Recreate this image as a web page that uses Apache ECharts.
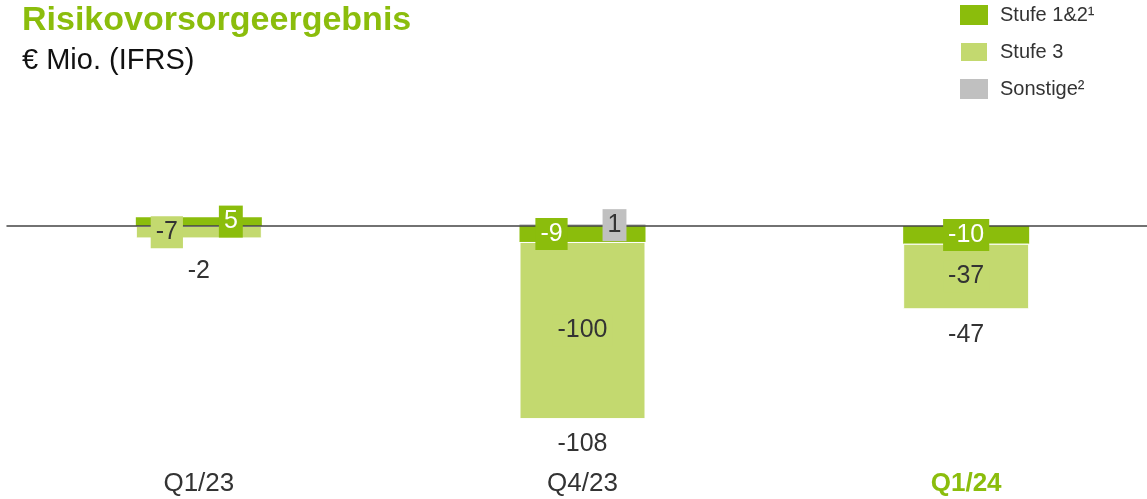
<!DOCTYPE html>
<html>
<head>
<meta charset="utf-8">
<script src="https://cdn.jsdelivr.net/npm/echarts@6/dist/echarts.min.js"></script>
<style>
  html, body { margin: 0; padding: 0; background: #fff; }
  #chart { width: 1147px; height: 499px; }
</style>
</head>
<body>
<div id="chart"></div>
<script>
const categories = ['Q1/23', 'Q4/23', 'Q1/24']
const stufe12 = [5, -9, -10]
const stufe3 = [-7, -100, -37]
const sonstige = [0, 1, 0]
const totals = [-2, -108, -47]

const GREEN = '#8bbd0c'
const LIGHT = '#c3d96f'
const GREY = '#c0c0c0'
const TEXT = '#333333'
const FONT = 'Liberation Sans, Arial, sans-serif'

// horizontal label shifts so that the small labels don't collide
const shift12 = [32, -31, 0]
const shift3 = [-32, 0, 0]
const shiftSon = [0, 32, 0]
const totalGap = [20, 13, 13]

// bottom of the negative stack, used to hang the total below the bar
const negBottom = categories.map((_, i) =>
  [stufe12[i], stufe3[i], sonstige[i]].filter(v => v < 0).reduce((a, b) => a + b, 0))

const boxLabel = (bg, color) => ({
  show: true,
  position: 'inside',
  backgroundColor: bg,
  color: color,
  fontSize: 25,
  lineHeight: 25,
  padding: [4, 5, 3, 5],
  fontFamily: FONT
})

const labelData = (values, shifts) => values.map((v, i) =>
  v === 0 ? { value: v, label: { show: false } } : { value: v, label: { offset: [shifts[i], 0] } })

const chart = echarts.init(document.getElementById('chart'))

chart.setOption({
  animation: false,
  textStyle: { fontFamily: FONT },
  title: [
    {
      text: 'Risikovorsorgeergebnis',
      left: 17, top: -1,
      textStyle: { color: GREEN, fontSize: 34, fontWeight: 'bold', fontFamily: FONT }
    },
    {
      text: '€ Mio. (IFRS)',
      left: 17, top: 41,
      textStyle: { color: '#111', fontSize: 29, fontWeight: 'normal', fontFamily: FONT }
    }
  ],
  legend: {
    orient: 'vertical',
    left: 959, top: 5, padding: 0,
    icon: 'rect',
    itemWidth: 28, itemHeight: 20, itemGap: 16,
    data: ['Stufe 1&2¹', 'Stufe 3', 'Sonstige²'],
    textStyle: { color: TEXT, fontSize: 20, fontFamily: FONT, padding: [0, 0, 0, 7] }
  },
  grid: { left: 7, top: 190.6, right: -11, bottom: 42.7, outerBoundsMode: 'none' },
  xAxis: [
    {
      type: 'category',
      data: categories,
      z: 3,
      axisLine: { onZero: true, lineStyle: { color: '#444', width: 1.5 } },
      axisTick: { show: false },
      axisLabel: { show: false }
    },
    {
      type: 'category',
      data: categories.map((c, i) => i === categories.length - 1
        ? { value: c, textStyle: { color: GREEN, fontWeight: 'bold' } }
        : c),
      position: 'bottom',
      axisLine: { show: false, onZero: false },
      axisTick: { show: false },
      axisLabel: { color: TEXT, fontSize: 26, margin: 15, fontFamily: FONT }
    }
  ],
  yAxis: {
    type: 'value',
    min: -130, max: 20,
    show: false
  },
  series: [
    {
      name: 'Stufe 1&2¹', type: 'bar', stack: 'a', z: 2, barWidth: 126,
      itemStyle: { color: GREEN },
      data: stufe12
    },
    {
      name: 'Stufe 3', type: 'bar', stack: 'a', z: 2, barWidth: 126,
      itemStyle: { color: LIGHT, borderColor: '#fff', borderWidth: 1 },
      data: stufe3
    },
    {
      name: 'Sonstige²', type: 'bar', stack: 'a', z: 2, barWidth: 126,
      itemStyle: { color: GREY },
      data: sonstige
    },
    // transparent copy of the stack, only to carry the labels above the zero line
    {
      name: 'lbl12', type: 'bar', stack: 'b', z: 4, barWidth: 126, barGap: '-100%',
      itemStyle: { color: 'transparent' },
      label: boxLabel(GREEN, '#fff'),
      data: labelData(stufe12, shift12)
    },
    {
      name: 'lbl3', type: 'bar', stack: 'b', z: 4, barWidth: 126, barGap: '-100%',
      itemStyle: { color: 'transparent' },
      label: boxLabel(LIGHT, TEXT),
      data: labelData(stufe3, shift3)
    },
    {
      name: 'lblSon', type: 'bar', stack: 'b', z: 4, barWidth: 126, barGap: '-100%',
      itemStyle: { color: 'transparent' },
      label: boxLabel(GREY, TEXT),
      data: labelData(sonstige, shiftSon)
    },
    {
      name: 'total', type: 'scatter', z: 4, symbolSize: 0,
      itemStyle: { color: TEXT, opacity: 1 },
      label: {
        show: true,
        position: 'bottom',
        color: TEXT, fontSize: 25, fontFamily: FONT,
        formatter: p => String(totals[p.dataIndex])
      },
      data: negBottom.map((v, i) => ({ value: v, label: { distance: totalGap[i] } }))
    }
  ]
})
</script>
</body>
</html>
